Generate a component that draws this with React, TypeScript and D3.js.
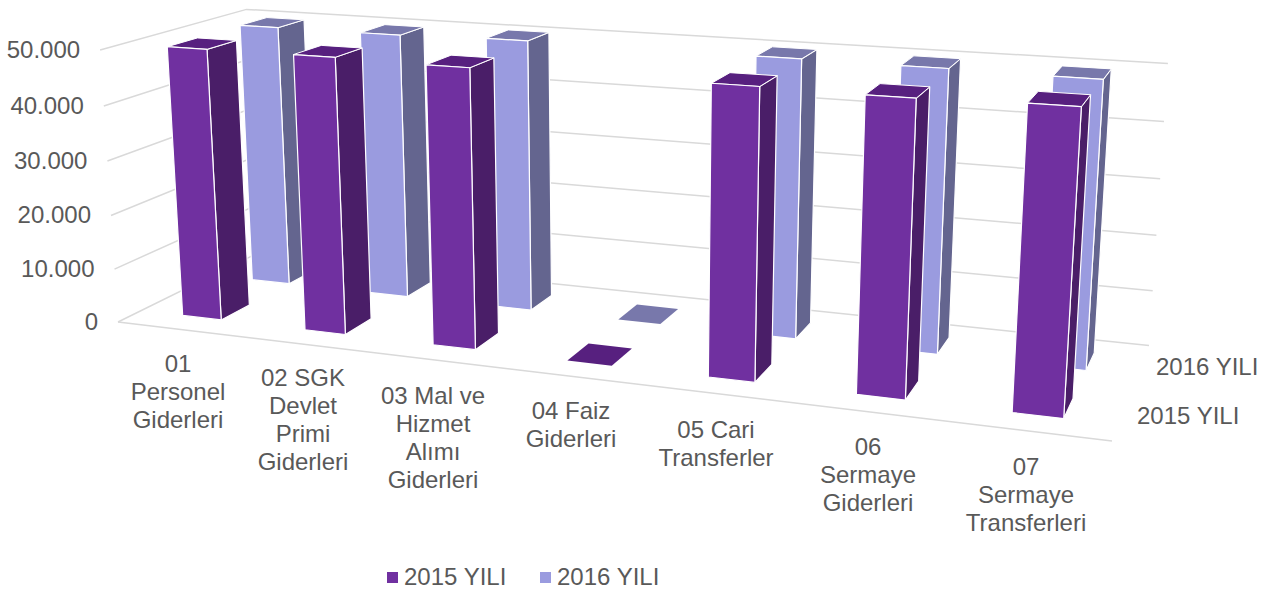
import React from "react";
import * as d3 from "d3";

const categories = ["01 Personel Giderleri", "02 SGK Devlet Primi Giderleri", "03 Mal ve Hizmet Alımı Giderleri", "04 Faiz Giderleri", "05 Cari Transferler", "06 Sermaye Giderleri", "07 Sermaye Transferleri"];
const categoryLines = [["01", "Personel", "Giderleri"], ["02 SGK", "Devlet", "Primi", "Giderleri"], ["03 Mal ve", "Hizmet", "Alımı", "Giderleri"], ["04 Faiz", "Giderleri"], ["05 Cari", "Transferler"], ["06", "Sermaye", "Giderleri"], ["07", "Sermaye", "Transferleri"]];
const seriesNames = ["2015 YILI", "2016 YILI"];
const values2015 = [49900, 50000, 49750, 0, 49850, 49650, 50050];
const values2016 = [49950, 49950, 50350, 0, 50150, 50050, 49850];
const yTicks = [0, 10000, 20000, 30000, 40000, 50000];
const yTickLabels = ["0", "10.000", "20.000", "30.000", "40.000", "50.000"];

// Layout
const floor = { fl: [118, 322], fr: [1112, 441], br: [1149, 345.5], bl: [258, 253] };
const vanish = [629, 8100];
const topFrontLeftY = 50;
const labelAnchors = [[178, 366], [303, 380], [433, 398], [571, 413], [716, 432], [868, 449], [1026, 469]];
const lineHeight = 27.8;
const fontSize = 24;
const FONT = "'Liberation Sans', Arial, sans-serif";
const TEXT = "#595959";
const GRID = "#d9d9d9";
const colors = [
  { front: "#7030a0", side: "#4a1e68", top: "#57207f" },
  { front: "#9a9bdf", side: "#64658f", top: "#7878ab" },
];

function makeProjection() {
  const [x0, y0] = floor.fl, [x1, y1] = floor.fr, [x2, y2] = floor.br, [x3, y3] = floor.bl;
  const dx1 = x1 - x2, dx2 = x3 - x2, dx3 = x0 - x1 + x2 - x3;
  const dy1 = y1 - y2, dy2 = y3 - y2, dy3 = y0 - y1 + y2 - y3;
  const den = dx1 * dy2 - dx2 * dy1;
  const g = (dx3 * dy2 - dx2 * dy3) / den;
  const h = (dx1 * dy3 - dx3 * dy1) / den;
  const a = x1 - x0 + g * x1, b = x3 - x0 + h * x3, c = x0;
  const d = y1 - y0 + g * y1, e = y3 - y0 + h * y3, f = y0;
  const k = (topFrontLeftY - y0) / (vanish[1] - topFrontLeftY);
  return (u: number, v: number, w: number): [number, number] => {
    const q = g * u + h * v + 1 + k * w;
    return [(a * u + b * v + c + vanish[0] * k * w) / q, (d * u + e * v + f + vanish[1] * k * w) / q];
  };
}
const project = makeProjection();

const uScale = d3.scaleBand<string>().domain(categories).range([0, 1.0025]).paddingInner(0.68).paddingOuter(0.35);
const vScale = d3.scaleBand<string>().domain(seriesNames).range([0, 1]).paddingInner(0.6).paddingOuter(0.3);
const wScale = d3.scaleLinear().domain([0, 50000]).range([0, 1]);
const poly = (pts: [number, number][]) => d3.line()(pts) + "Z";

export default function App() {
  const seriesValues = [values2015, values2016];
  const order = [1, 0];
  return (
    <svg width={1283} height={590} style={{ position: "absolute", left: 0, top: 0 }} fontFamily={FONT} fontSize={fontSize} fill={TEXT}>
      {yTicks.map((t) => {
        const w = wScale(t);
        const pts = [project(0, 0, w), project(0, 1, w), project(1, 1, w)];
        return <path key={t} d={d3.line()(pts) as string} fill="none" stroke={GRID} strokeWidth={1.5} />;
      })}
      <path d={d3.line()([project(0, 0, 0), project(1, 0, 0)]) as string} fill="none" stroke={GRID} strokeWidth={1.5} />
      {yTicks.map((t, i) => {
        const [x, y] = project(0, 0, wScale(t));
        return <text key={t} x={x - 20} y={y + 1.5} textAnchor="end" dominantBaseline="middle">{yTickLabels[i]}</text>;
      })}
      {order.map((s) => categories.map((cat, i) => {
        const val = seriesValues[s][i];
        const u0 = uScale(cat)!, u1 = u0 + uScale.bandwidth();
        const v0 = vScale(seriesNames[s])!, v1 = v0 + vScale.bandwidth();
        const w = wScale(val);
        const c = colors[s];
        const topFace = <path d={poly([project(u0, v0, w), project(u1, v0, w), project(u1, v1, w), project(u0, v1, w)])} fill={c.top} stroke={val > 0 ? "#fff" : "none"} strokeWidth={1} />;
        if (val <= 0) return <g key={cat + s}>{topFace}</g>;
        return (
          <g key={cat + s} stroke="#fff" strokeWidth={1.2} strokeLinejoin="round">
            <path d={poly([project(u1, v0, 0), project(u1, v1, 0), project(u1, v1, w), project(u1, v0, w)])} fill={c.side} />
            {topFace}
            <path d={poly([project(u0, v0, 0), project(u1, v0, 0), project(u1, v0, w), project(u0, v0, w)])} fill={c.front} />
          </g>
        );
      }))}
      {categoryLines.map((lines, i) => (
        <text key={i} textAnchor="middle">
          {lines.map((l, j) => (
            <tspan key={j} x={labelAnchors[i][0]} y={labelAnchors[i][1] + j * lineHeight} dominantBaseline="middle">{l}</tspan>
          ))}
        </text>
      ))}
      <text x={1156} y={369} dominantBaseline="middle">{seriesNames[1]}</text>
      <text x={1137} y={418} dominantBaseline="middle">{seriesNames[0]}</text>
      {seriesNames.map((n, i) => {
        const x = 387 + i * 153;
        return (
          <g key={n}>
            <rect x={x} y={572} width={11} height={11} fill={colors[i].front} />
            <text x={x + 17} y={579} dominantBaseline="middle">{n}</text>
          </g>
        );
      })}
    </svg>
  );
}
